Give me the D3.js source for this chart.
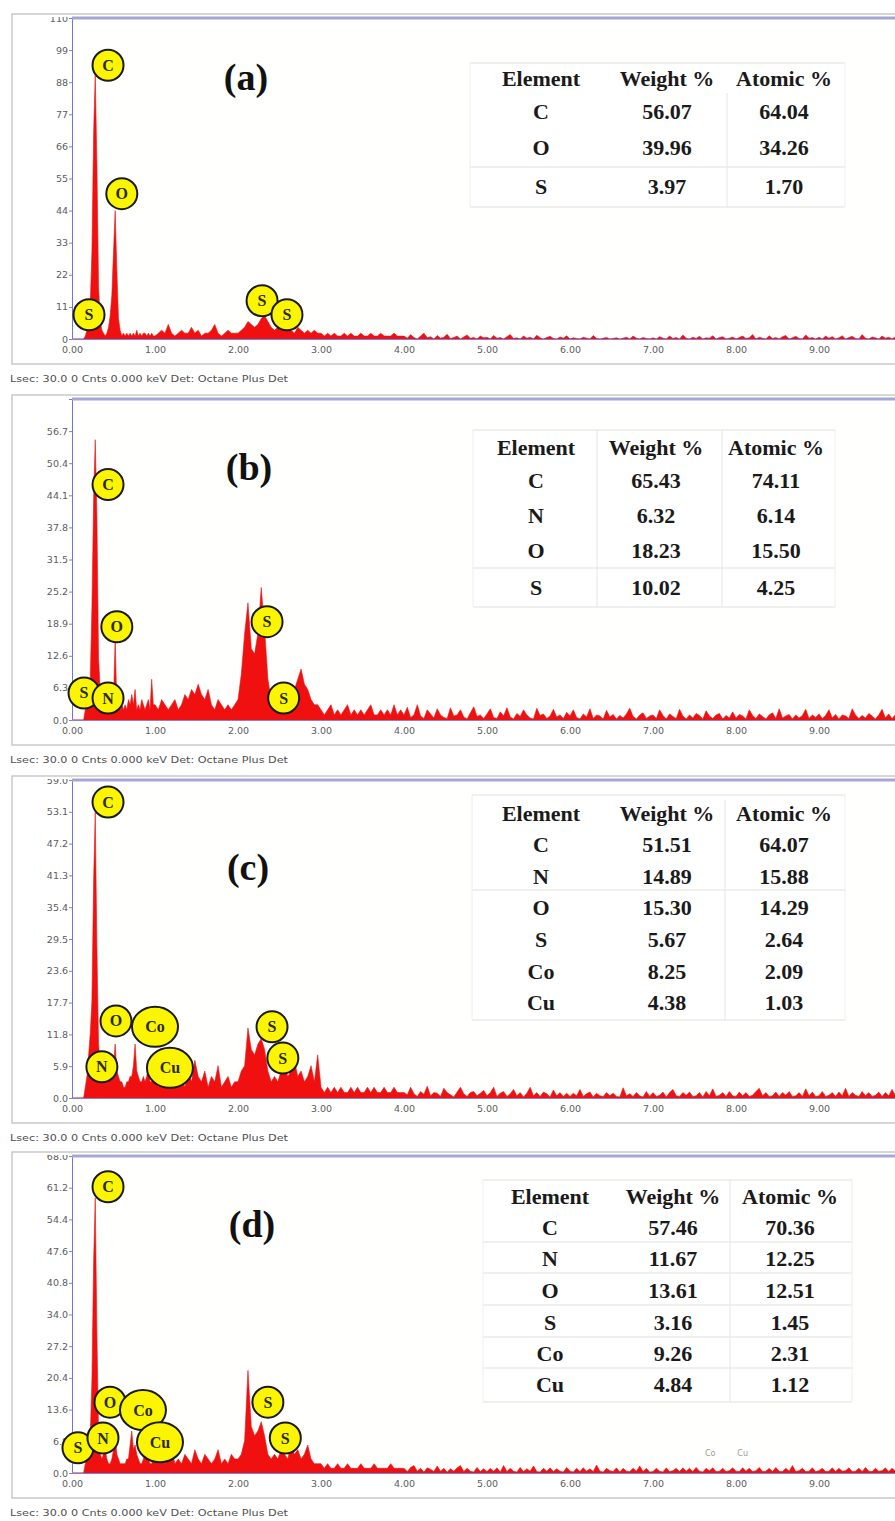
<!DOCTYPE html>
<html>
<head>
<meta charset="utf-8">
<script src="https://cdn.jsdelivr.net/npm/d3@7"></script>
<style>
  body { margin: 0; background: #ffffff; }
  svg { display: block; }
</style>
</head>
<body>
<svg id="chart" width="895" height="1521"></svg>
<script>
// ---- Spectrum channels ----
// low range: 0.00 – 0.98 keV in 0.02 keV channels; high range: 1.00 – 9.96 keV in 0.04 keV channels
const lowStart = 0, lowStep = 0.02;
const highStart = 1.0, highStep = 0.04;
const xTickValues = [0, 1, 2, 3, 4, 5, 6, 7, 8, 9];
const xTickLabels = ["0.00", "1.00", "2.00", "3.00", "4.00", "5.00", "6.00", "7.00", "8.00", "9.00"];
const panelNames = ["(a)", "(b)", "(c)", "(d)"];
const footerText = "Lsec: 30.0 0 Cnts 0.000 keV Det: Octane Plus Det";

// ---- Y axes (counts) ----
const yMaxA = 110, yMaxB = 63, yMaxC = 59, yMaxD = 68;
const yTicksA = [0, 11, 22, 33, 44, 55, 66, 77, 88, 99, 110];
const yTickLabelsA = ["0", "11", "22", "33", "44", "55", "66", "77", "88", "99", "110"];
const yTicksB = [0, 6.3, 12.6, 18.9, 25.2, 31.5, 37.8, 44.1, 50.4, 56.7];
const yTickLabelsB = ["0.0", "6.3", "12.6", "18.9", "25.2", "31.5", "37.8", "44.1", "50.4", "56.7"];
const yTicksC = [0, 5.9, 11.8, 17.7, 23.6, 29.5, 35.4, 41.3, 47.2, 53.1, 59.0];
const yTickLabelsC = ["0.0", "5.9", "11.8", "17.7", "23.6", "29.5", "35.4", "41.3", "47.2", "53.1", "59.0"];
const yTicksD = [0, 6.8, 13.6, 20.4, 27.2, 34.0, 40.8, 47.6, 54.4, 61.2, 68.0];
const yTickLabelsD = ["0.0", "6.8", "13.6", "20.4", "27.2", "34.0", "40.8", "47.6", "54.4", "61.2", "68.0"];

// ---- Counts, 0.00 – 0.98 keV (C, N, O, Co-L, Cu-L region) ----
const countsLowA = [
  0,0,0,0,0,0,0,0,1,3,6,12,30,70,91,60,18,6,3,2,1,2,4,8,15,
  30,44,24,7,3,1,2,1,2,1,2,1,2,1,3,1,2,1,2,2,1,2,1,2,1
];
const countsLowB = [
  0,0,0,0,0,0,0,0,2,4,6,8,22,43,55,40,12,6,4,5,4,3,4,3,3,
  4,16,3,3,2,3,2,3,2,4,3,5,3,6,2,3,2,4,3,2,3,4,2,8,3
];
const countsLowC = [
  0,0,0,0,0,0,0,0,2,4,8,12,18,40,53,28,10,6,6,7,7,5,5,4,4,
  6,10,5,4,3,3,2,2,3,3,4,4,6,10,5,4,3,3,4,3,4,6,3,3,4
];
const countsLowD = [
  0,0,0,0,0,0,0,0,2,3,5,8,20,45,59,30,9,4,3,4,5,3,2,2,3,
  5,8,4,3,2,2,2,2,3,3,6,9,5,6,4,3,2,2,3,4,3,3,2,2,3
];

// ---- Counts, 1.00 – 9.96 keV (one row = 1 keV) ----
const countsHighA = [
  1,2,3,2,5,2,1,2,3,2,2,4,2,3,1,2,2,3,5,2,1,2,3,2,2,
  2,3,4,6,5,4,5,7,8,6,4,3,4,3,4,3,3,2,4,3,2,3,2,3,2,
  2,1,2,1,2,1,1,2,1,2,1,1,2,1,1,2,1,1,2,1,1,1,2,1,1,
  1,0.3,1.5,0.5,0,1,2,0.4,0.8,0,1.2,0.3,0.6,1.6,0.2,0.5,1,0,0.7,1.4,0.3,0.5,0,1,0.4,
  0.6,0,1.2,0.3,0.5,0,0.8,1.5,0.2,0.4,0,1,0.3,0.6,0,1.3,0.4,0,0.5,0.9,0.2,0,0.7,0.3,1.1,
  0,0.4,0.2,0,0.6,0.3,0,1.2,0.2,0,0.3,0.5,0,0.2,0.4,0,0.3,0.6,0,1,0.3,0,0.5,0.2,0,
  0.4,0,0.8,0.3,0,1,0.2,0.5,0,1.4,0.3,0,0.6,0.2,0.9,0,0.4,0.3,1.1,0,0.5,0.8,0,0.3,0.7,
  0,0.5,1,0.2,0.4,1.5,0,0.6,0.3,0,1.1,0.2,0.5,0,0.8,1.2,0,0.4,0.9,0.2,0,1.4,0.3,0.5,0,
  0.6,0,1,0.3,0.8,0,0.4,1.1,0,0.5,0.9,0.2,0,1.5,0.3,0,0.7,0.4,0,1,0.3,0.6,0,0.8,0.2
];
const countsHighB = [
  3,2,4,3,2,3,4,2,3,5,4,6,5,7,5,4,6,3,2,4,3,2,3,2,3,
  4,9,17,23,14,13,17,26,18,8,4,3,4,3,5,4,4,6,8,10,7,6,4,3,3,
  2,1,2,3,1,2,1,2,3,1,2,1,2,1,2,3,1,1,2,1,2,1,3,1,2,
  1,2.5,0.5,1,3,0.8,0.3,2,1.2,0.4,2.2,1,0.5,0.3,2.4,0.8,1,2,0.6,0.2,1.4,2.6,0.7,1,0.3,
  1.2,2.2,0.5,0.3,1.6,0.8,2.4,0.6,0.2,1.3,0.7,2,1,0.4,0.2,2.3,0.9,1.2,0.3,0.8,2.1,0.6,1,0.3,1.5,
  0.8,2,0.5,0.2,1.2,0.6,2.2,0.3,1,0.8,0.2,1.9,0.6,1.1,0.2,0.9,0.4,1.2,2.3,0.7,0.2,1,1.4,0.3,0.8,
  1,0.3,2,0.9,0.2,1.2,0.7,0.3,2.1,0.8,0.2,1,0.4,1.3,0.9,0.2,1.8,0.8,0.3,1,1.3,0.2,0.9,0.4,1.6,
  0.4,1.1,0.8,0.2,2,0.9,0.3,1.2,0.7,0.2,1,1.4,0.3,2.2,0.4,0.8,1.1,0.2,1,0.4,0.9,2.1,0.3,1,0.5,
  1.2,0.3,0.9,2,0.4,1.1,0.2,1,0.8,0.3,2.2,1,0.3,0.9,0.4,1.3,0.8,0.2,1,2.1,0.4,1.2,0.3,1,0.6
];
const countsHighC = [
  4,2,5,3,4,2,6,3,4,2,5,3,7,4,3,5,2,4,3,6,2,3,4,2,3,
  3,5,6,13,9,8,10,11,9,5,3,4,3,5,6,4,5,7,4,5,3,4,6,3,8,
  2,1,2,1,2,1,2,1,1,2,1,2,1,1,2,1,2,1,1,2,1,1,2,1,1,
  1,0.6,2,0.8,0.3,1.2,0.7,2.2,0.4,1,0.9,0.3,1.8,1,0.6,0.2,1.1,2,0.8,0.3,1,1.2,0.4,0.9,1.4,
  0.4,1,2,0.3,0.9,1.2,0.3,0.8,1.6,0.4,1,0.2,0.9,2,0.4,1,0.3,1.1,0.8,0.2,1.5,0.4,1,0.3,0.9,
  0.3,0.9,0.4,1.6,0.3,0.8,1.1,0.2,0.9,0.4,0.3,1,0.4,0.9,0.3,0.2,1.9,0.4,0.8,0.3,1,0.4,0.2,1.2,0.3,
  1,0.3,0.5,1.1,0.2,1,1.6,0.4,0.3,1,0.5,1.1,0.3,0.4,1,0.2,1.2,0.4,1.7,0.3,0.5,1,0.3,1.2,0.4,
  0.3,1.1,0.4,1,0.3,0.5,1.2,1.8,0.4,1,0.3,0.4,1.1,0.3,1,0.5,1.2,0.3,0.4,1,0.3,1.7,0.4,1.1,0.3,
  0.4,1.2,0.3,0.5,1,0.3,1.1,0.4,1.8,0.3,1,0.5,0.3,1.2,0.4,1,0.3,0.5,1.1,0.3,1,0.4,1.6,0.5,1
];
const countsHighD = [
  3,2,4,2,3,5,2,3,2,4,3,2,5,3,2,4,3,2,3,5,2,3,2,4,3,
  3,4,7,22,10,8,9,11,8,4,3,4,3,5,4,3,6,4,5,3,4,6,3,2,2,
  2,1,2,1,1,2,1,1,2,1,1,1,2,1,1,1,2,1,1,1,1,2,1,1,1,
  1,0.3,1.2,1.6,0.4,1,0.2,1.1,0.8,0.3,1.5,0.4,1,0.2,0.9,0.4,1.1,1.6,0.3,1,0.4,0.2,1.2,0.3,0.9,
  0.3,1,0.4,1.1,0.2,1.6,0.3,1,0.4,0.2,1.2,0.3,0.9,0.4,1.5,0.3,0.2,1,0.4,1.1,0.3,0.9,0.4,0.2,1.2,
  0.4,0.2,1,0.3,1.1,0.4,0.9,0.3,1.7,0.4,0.2,1,0.5,0.3,1.1,0.2,1,0.4,0.3,1,0.4,1.5,0.3,1,0.2,
  0.3,1,0.4,0.2,1.1,0.3,0.5,1,0.3,1.1,0.4,1,0.3,1.2,0.4,0.2,1,0.5,1.1,0.3,0.4,1,0.3,0.5,1.1,
  0.4,0.3,1.1,0.4,1,0.3,0.5,1.2,0.3,0.4,1,0.3,1.2,0.4,0.3,1,0.4,1.6,0.3,0.5,1,0.3,0.4,1.1,0.3,
  0.5,1,0.3,0.4,1.1,0.3,1,0.4,0.5,1.1,0.3,0.4,1,0.3,1.2,0.4,0.3,1,0.4,0.5,1.1,0.3,1,0.4,0.3
];

// ---- Peak identification labels: [element, keV, counts] ----
const peakLabelsA = [["C", 0.434, 93.8], ["O", 0.60, 49.8], ["S", 0.205, 8.3], ["S", 2.29, 13.1], ["S", 2.59, 8.3]];
const peakLabelsB = [["C", 0.434, 46.2], ["O", 0.54, 18.3], ["S", 0.145, 5.3], ["N", 0.434, 4.3], ["S", 2.35, 19.3], ["S", 2.55, 4.3]];
const peakLabelsC = [["C", 0.434, 54.9], ["O", 0.53, 14.3], ["Co", 1.0, 13.2], ["N", 0.36, 5.8], ["Cu", 1.18, 5.6], ["S", 2.41, 13.2], ["S", 2.54, 7.4]];
const peakLabelsD = [["C", 0.434, 61.4], ["O", 0.458, 15.2], ["Co", 0.855, 13.5], ["S", 0.072, 5.4], ["N", 0.373, 7.5], ["Cu", 1.06, 6.6], ["S", 2.36, 15.2], ["S", 2.57, 7.5]];
const lineMarkersD = [["Co", 7.69, 3.6], ["Cu", 8.08, 3.6]];

// ---- Quantification tables ----
const tableHeader = ["Element", "Weight %", "Atomic %"];
const elementsA = ["C", "O", "S"];
const weightA = ["56.07", "39.96", "3.97"];
const atomicA = ["64.04", "34.26", "1.70"];
const elementsB = ["C", "N", "O", "S"];
const weightB = ["65.43", "6.32", "18.23", "10.02"];
const atomicB = ["74.11", "6.14", "15.50", "4.25"];
const elementsC = ["C", "N", "O", "S", "Co", "Cu"];
const weightC = ["51.51", "14.89", "15.30", "5.67", "8.25", "4.38"];
const atomicC = ["64.07", "15.88", "14.29", "2.64", "2.09", "1.03"];
const elementsD = ["C", "N", "O", "S", "Co", "Cu"];
const weightD = ["57.46", "11.67", "13.61", "3.16", "9.26", "4.84"];
const atomicD = ["70.36", "12.25", "12.51", "1.45", "2.31", "1.12"];

// ---- Assemble panels ----
const panels = [
  { name: panelNames[0], low: countsLowA, high: countsHighA, yMax: yMaxA, ticks: yTicksA, tickLabels: yTickLabelsA, peaks: peakLabelsA,
    elements: elementsA, weight: weightA, atomic: atomicA, markers: [],
    layout: { top: 18, bottom: 339, nameX: 246, nameY: 90,
      table: { x0: 470, x1: 845, y0: 63, y1: 207, head: 78, rows: [111, 147, 186], cols: [541, 667, 784],
               hlines: [63, 167, 207], vlines: [[727, 93, 207]] } } },
  { name: panelNames[1], low: countsLowB, high: countsHighB, yMax: yMaxB, ticks: yTicksB, tickLabels: yTickLabelsB, peaks: peakLabelsB,
    elements: elementsB, weight: weightB, atomic: atomicB, markers: [],
    layout: { top: 399, bottom: 720, nameX: 249, nameY: 480,
      table: { x0: 473, x1: 835, y0: 430, y1: 607, head: 447, rows: [480, 515, 550, 587], cols: [536, 656, 776],
               hlines: [430, 568, 607], vlines: [[597, 430, 607], [722, 430, 607]] } } },
  { name: panelNames[2], low: countsLowC, high: countsHighC, yMax: yMaxC, ticks: yTicksC, tickLabels: yTickLabelsC, peaks: peakLabelsC,
    elements: elementsC, weight: weightC, atomic: atomicC, markers: [],
    layout: { top: 780, bottom: 1098, nameX: 248, nameY: 880,
      table: { x0: 472, x1: 845, y0: 795, y1: 1020, head: 813, rows: [844, 876, 907, 939, 971, 1002], cols: [541, 667, 784],
               hlines: [795, 890, 1020], vlines: [[725, 800, 1020]] } } },
  { name: panelNames[3], low: countsLowD, high: countsHighD, yMax: yMaxD, ticks: yTicksD, tickLabels: yTickLabelsD, peaks: peakLabelsD,
    elements: elementsD, weight: weightD, atomic: atomicD, markers: lineMarkersD,
    layout: { top: 1156, bottom: 1473, nameX: 252, nameY: 1237,
      table: { x0: 483, x1: 852, y0: 1180, y1: 1402, head: 1196, rows: [1227, 1258, 1290, 1322, 1353, 1384], cols: [550, 673, 790],
               hlines: [1180, 1242, 1273, 1305, 1337, 1368, 1402], vlines: [[730, 1180, 1402]] } } }
];

const svg = d3.select("#chart");
const plotLeft = 72, plotRight = 905, frameLeft = 12;
const x = d3.scaleLinear().domain([0, 10]).range([plotLeft, plotLeft + 830]);

const sans = "'DejaVu Sans', Verdana, sans-serif";
const serif = "'Liberation Serif', 'Times New Roman', serif";

panels.forEach((p, pi) => {
  const L = p.layout;
  const g = svg.append("g").attr("class", "panel");
  const y = d3.scaleLinear().domain([0, p.yMax]).range([L.bottom, L.top]);

  // outer frame
  g.append("rect")
    .attr("x", frameLeft).attr("y", L.top - 4)
    .attr("width", plotRight + 10 - frameLeft).attr("height", L.bottom + 25 - (L.top - 4))
    .attr("fill", "#ffffff").attr("stroke", "#c9c9c9").attr("stroke-width", 1.5);

  // plot area background
  g.append("rect")
    .attr("x", plotLeft).attr("y", L.top)
    .attr("width", plotRight - plotLeft).attr("height", L.bottom - L.top)
    .attr("fill", "#fffffd");

  // spectrum
  const clipId = "clip" + pi;
  g.append("clipPath").attr("id", clipId).append("rect")
    .attr("x", plotLeft).attr("y", L.top)
    .attr("width", plotRight - plotLeft).attr("height", L.bottom - L.top);

  const pts = p.low.map((c, i) => [lowStart + i * lowStep, c])
    .concat(p.high.map((c, i) => [highStart + i * highStep, c]));
  const area = d3.area()
    .x(d => x(d[0]))
    .y0(y(0))
    .y1(d => y(d[1]))
    .curve(d3.curveLinear);
  g.append("path")
    .datum(pts)
    .attr("clip-path", `url(#${clipId})`)
    .attr("d", area)
    .attr("fill", "#f01010")
    .attr("stroke", "#e01818")
    .attr("stroke-width", 0.6);

  // y axis (top label partly hidden under the plot border)
  const yClip = "yclip" + pi;
  g.append("clipPath").attr("id", yClip).append("rect")
    .attr("x", 0).attr("y", L.top - 1).attr("width", plotLeft + 2).attr("height", L.bottom - L.top + 20);
  const yAxis = d3.axisLeft(y)
    .tickValues(p.ticks)
    .tickFormat((d, i) => p.tickLabels[i])
    .tickSize(3).tickPadding(1);
  const ya = g.append("g")
    .attr("clip-path", `url(#${yClip})`)
    .append("g")
    .attr("transform", `translate(${plotLeft},0)`)
    .call(yAxis);
  ya.select(".domain").attr("stroke", "#7272e6").attr("stroke-width", 1);
  ya.selectAll(".tick line").attr("stroke", "#8a8a8a");
  ya.selectAll(".tick text").attr("fill", "#5c5c5c")
    .style("font-family", sans).style("font-size", "9.5px");

  // x axis
  const xAxis = d3.axisBottom(x)
    .tickValues(xTickValues)
    .tickFormat((d, i) => xTickLabels[i])
    .tickSize(0).tickPadding(7);
  const xa = g.append("g")
    .attr("transform", `translate(0,${L.bottom})`)
    .call(xAxis);
  xa.select(".domain").attr("stroke", "#8080e0").attr("stroke-width", 1);
  xa.selectAll(".tick text").attr("fill", "#5c5c5c")
    .style("font-family", sans).style("font-size", "9.5px");

  // heavy top border of the plot area
  g.append("line")
    .attr("x1", plotLeft).attr("x2", plotRight)
    .attr("y1", L.top).attr("y2", L.top)
    .attr("stroke", "#a6a6d6").attr("stroke-width", 3);

  // line markers (faint element tags)
  p.markers.forEach(m => {
    g.append("text")
      .attr("x", x(m[1])).attr("y", y(m[2]))
      .attr("text-anchor", "middle")
      .attr("fill", "#9a9a9a")
      .style("font-family", sans).style("font-size", "8px")
      .text(m[0]);
  });

  // quantification table
  const T = L.table;
  const tg = g.append("g");
  tg.append("rect")
    .attr("x", T.x0).attr("y", T.y0).attr("width", T.x1 - T.x0).attr("height", T.y1 - T.y0)
    .attr("fill", "#ffffff").attr("stroke", "none");
  T.hlines.forEach(hy => {
    tg.append("line").attr("x1", T.x0).attr("x2", T.x1).attr("y1", hy).attr("y2", hy)
      .attr("stroke", "#e2e2e2").attr("stroke-width", 1.2);
  });
  T.vlines.forEach(v => {
    tg.append("line").attr("x1", v[0]).attr("x2", v[0]).attr("y1", v[1]).attr("y2", v[2])
      .attr("stroke", "#e6e6e6").attr("stroke-width", 1);
  });
  [T.x0, T.x1].forEach(vx => {
    tg.append("line").attr("x1", vx).attr("x2", vx).attr("y1", T.y0).attr("y2", T.y1)
      .attr("stroke", "#eeeeee").attr("stroke-width", 1);
  });
  const cellText = (tx, ty, s) => tg.append("text")
    .attr("x", tx).attr("y", ty)
    .attr("text-anchor", "middle").attr("dominant-baseline", "central")
    .attr("fill", "#1a1a1a")
    .style("font-family", serif).style("font-weight", "bold").style("font-size", "22px")
    .text(s);
  tableHeader.forEach((h, ci) => cellText(T.cols[ci], T.head, h));
  p.elements.forEach((el, ri) => {
    cellText(T.cols[0], T.rows[ri], el);
    cellText(T.cols[1], T.rows[ri], p.weight[ri]);
    cellText(T.cols[2], T.rows[ri], p.atomic[ri]);
  });

  // panel name
  g.append("text")
    .attr("x", L.nameX).attr("y", L.nameY)
    .attr("text-anchor", "middle")
    .attr("fill", "#111")
    .style("font-family", serif).style("font-weight", "bold").style("font-size", "38px")
    .text(p.name);

  // peak identification badges
  p.peaks.forEach(pk => {
    const cx = x(pk[1]), cy = y(pk[2]);
    const wide = pk[0].length > 1;
    g.append("ellipse")
      .attr("cx", cx).attr("cy", cy)
      .attr("rx", wide ? 23 : 15.5).attr("ry", wide ? 20 : 15.5)
      .attr("fill", "#fbf500").attr("stroke", "#1a1a1a").attr("stroke-width", 2);
    g.append("text")
      .attr("x", cx).attr("y", cy)
      .attr("text-anchor", "middle").attr("dominant-baseline", "central")
      .attr("fill", "#2a2a1a")
      .style("font-family", serif).style("font-weight", "bold").style("font-size", "16px")
      .text(pk[0]);
  });

  // acquisition footer
  g.append("text")
    .attr("x", 10).attr("y", L.bottom + 43)
    .attr("fill", "#505050")
    .attr("textLength", 278).attr("lengthAdjust", "spacingAndGlyphs")
    .style("font-family", sans).style("font-size", "9px")
    .text(footerText);
});
</script>
</body>
</html>
